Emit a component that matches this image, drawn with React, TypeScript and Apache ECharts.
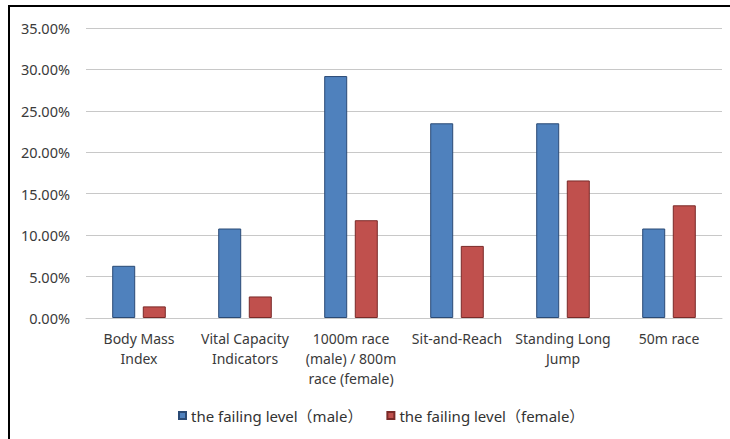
import React, { useEffect, useRef } from "react";
import * as echarts from "echarts";

// Test items, with line breaks where the axis labels wrap
const categories = [
  "Body Mass\nIndex",
  "Vital Capacity\nIndicators",
  "1000m race\n(male) / 800m\nrace (female)",
  "Sit-and-Reach",
  "Standing Long\nJump",
  "50m race",
];

// Failing rate, in percent
const maleValues = [6.3, 10.8, 29.2, 23.5, 23.5, 10.8];
const femaleValues = [1.4, 2.6, 11.8, 8.7, 16.6, 13.6];

const seriesNames = ["the failing level（male）", "the failing level（female）"];

const FONT = "'Noto Sans', 'Noto Sans CJK SC', sans-serif";

export default function App() {
  const ref = useRef<HTMLDivElement>(null);

  useEffect(() => {
    if (!ref.current) return;
    const chart = echarts.init(ref.current, null, { renderer: "svg" });
    chart.setOption({
      animation: false,
      backgroundColor: "#ffffff",
      textStyle: { fontFamily: FONT },
      grid: { left: 86, right: 8, top: 28, bottom: 121 },
      legend: {
        left: 178,
        top: 408,
        padding: 0,
        itemWidth: 7,
        itemHeight: 7,
        itemGap: 24,
        icon: "rect",
        textStyle: { fontSize: 15, color: "#333333", fontFamily: FONT },
        data: seriesNames,
      },
      xAxis: {
        type: "category",
        data: categories,
        axisLine: { lineStyle: { color: "#c8c8c8", width: 1 } },
        axisTick: { show: false },
        axisLabel: {
          interval: 0,
          margin: 10,
          fontSize: 14,
          lineHeight: 20,
          color: "#3a3a3a",
          fontFamily: FONT,
        },
      },
      yAxis: {
        type: "value",
        min: 0,
        max: 35,
        interval: 5,
        axisLine: { show: false },
        axisTick: { show: false },
        splitLine: { lineStyle: { color: "#c8c8c8", width: 1 } },
        axisLabel: {
          margin: 16,
          fontSize: 14.5,
          color: "#3a3a3a",
          fontFamily: FONT,
          formatter: (v: number) => v.toFixed(2) + "%",
        },
      },
      series: [
        {
          name: seriesNames[0],
          type: "bar",
          data: maleValues,
          barWidth: 23,
          barGap: "33%",
          itemStyle: { color: "#4f81bd", borderColor: "#2a4a75", borderWidth: 1 },
        },
        {
          name: seriesNames[1],
          type: "bar",
          data: femaleValues,
          barWidth: 23,
          itemStyle: { color: "#c0504d", borderColor: "#7a2a28", borderWidth: 1 },
        },
      ],
      graphic: [
        {
          type: "line",
          shape: { x1: 8, y1: 6, x2: 730, y2: 6 },
          style: { stroke: "#000000", lineWidth: 2 },
        },
        {
          type: "line",
          shape: { x1: 9, y1: 5, x2: 9, y2: 439 },
          style: { stroke: "#000000", lineWidth: 2 },
        },
      ],
    });
    return () => chart.dispose();
  }, []);

  return (
    <div
      ref={ref}
      style={{ position: "fixed", left: 0, top: 0, width: 730, height: 439 }}
    />
  );
}
